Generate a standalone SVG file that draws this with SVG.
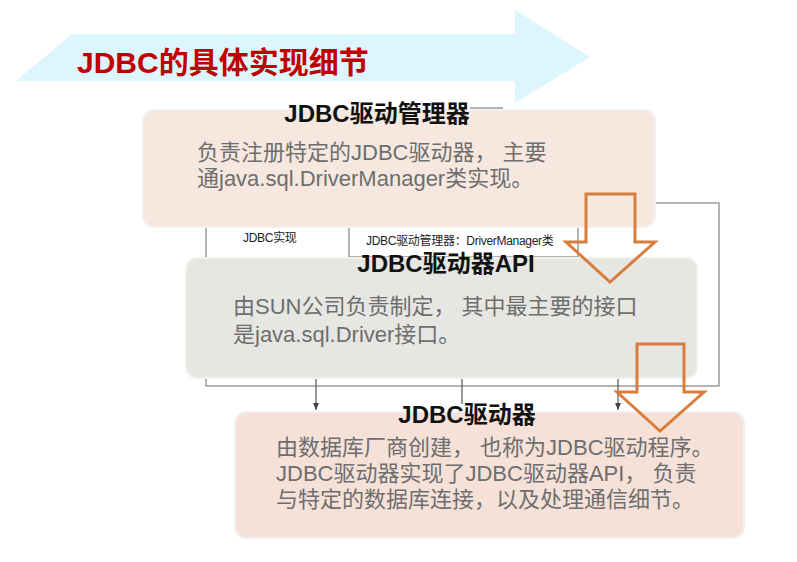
<svg xmlns="http://www.w3.org/2000/svg" width="797" height="562" viewBox="0 0 797 562">
<style>
.zh{font-family:"Liberation Sans","Noto Sans CJK SC",sans-serif;}
.ttl{font-size:24px;font-weight:bold;fill:#111;text-anchor:middle;}
.body{font-size:22px;fill:#6e6e6e;}
.small{font-size:12px;fill:#222;letter-spacing:-0.3px;}
.gl{fill:none;stroke:#9a9a9a;stroke-width:1.5;}
.ar{fill:none;stroke:#555;stroke-width:1.2;marker-end:url(#ah);}
.box{stroke:#f0f0ee;stroke-width:2;}
.big{fill:none;stroke:#d97d3c;stroke-width:3;stroke-linejoin:miter;}
</style>
<defs>
<marker id="ah" markerWidth="8" markerHeight="8" refX="7" refY="4" orient="auto" markerUnits="userSpaceOnUse">
<path d="M0,1 L7,4 L0,7 Z" fill="#444"/>
</marker>
</defs>
<rect width="797" height="562" fill="#ffffff"/>
<g id="banner">
<polygon points="16,81 72,34 515,34 515,10 590,57 515,103 515,81" fill="#ddf5fd"/>
<text class="zh" x="77" y="73" font-size="30" font-weight="bold" fill="#c00000">JDBC的具体实现细节</text>
</g>
<g id="connectors">
<polyline class="gl" points="206,227 206,386 719,386 719,203 640,203"/>
<polyline class="gl" points="470,108 502,108 502,114"/>
<polyline class="gl" points="349,215 349,257 578,257 578,215"/>
<line class="ar" x1="316" y1="378" x2="316" y2="410"/>
<line x1="462" y1="378" x2="462" y2="404" stroke="#555" stroke-width="1.2"/>
<line class="ar" x1="618" y1="378" x2="618" y2="410"/>
<text class="zh small" x="243" y="242">JDBC实现</text>
<text class="zh small" x="366" y="245">JDBC驱动管理器：DriverManager类</text>
</g>
<g id="driver-manager">
<rect class="box" x="143" y="110" width="512" height="117" rx="11" fill="#f6e8de"/>
<text class="zh ttl" x="377" y="122">JDBC驱动管理器</text>
<text class="zh body" x="197" y="160" xml:space="preserve">负责注册特定的JDBC驱动器， 主要</text>
<text class="zh body" x="197" y="186">通java.sql.DriverManager类实现。</text>
</g>
<g id="driver-api">
<rect class="box" x="186" y="258" width="511" height="120" rx="11" fill="#e6e6e2"/>
<text class="zh ttl" x="446" y="272">JDBC驱动器API</text>
<text class="zh body" x="233" y="314" xml:space="preserve">由SUN公司负责制定， 其中最主要的接口</text>
<text class="zh body" x="233" y="342">是java.sql.Driver接口。</text>
</g>
<g id="driver">
<rect class="box" x="235" y="412" width="509" height="126" rx="11" fill="#f5e1d8"/>
<text class="zh ttl" x="467" y="423">JDBC驱动器</text>
<text class="zh body" x="276" y="455" xml:space="preserve">由数据库厂商创建， 也称为JDBC驱动程序。</text>
<text class="zh body" x="276" y="481" xml:space="preserve">JDBC驱动器实现了JDBC驱动器API， 负责</text>
<text class="zh body" x="276" y="507">与特定的数据库连接，以及处理通信细节。</text>
</g>
<g id="flow-arrows">
<polygon class="big" points="586,194 635,194 635,242 655,242 610,282 566,242 586,242"/>
<polygon class="big" points="637,344 684,344 684,392 704,392 660,431 617,392 637,392"/>
</g>
</svg>
